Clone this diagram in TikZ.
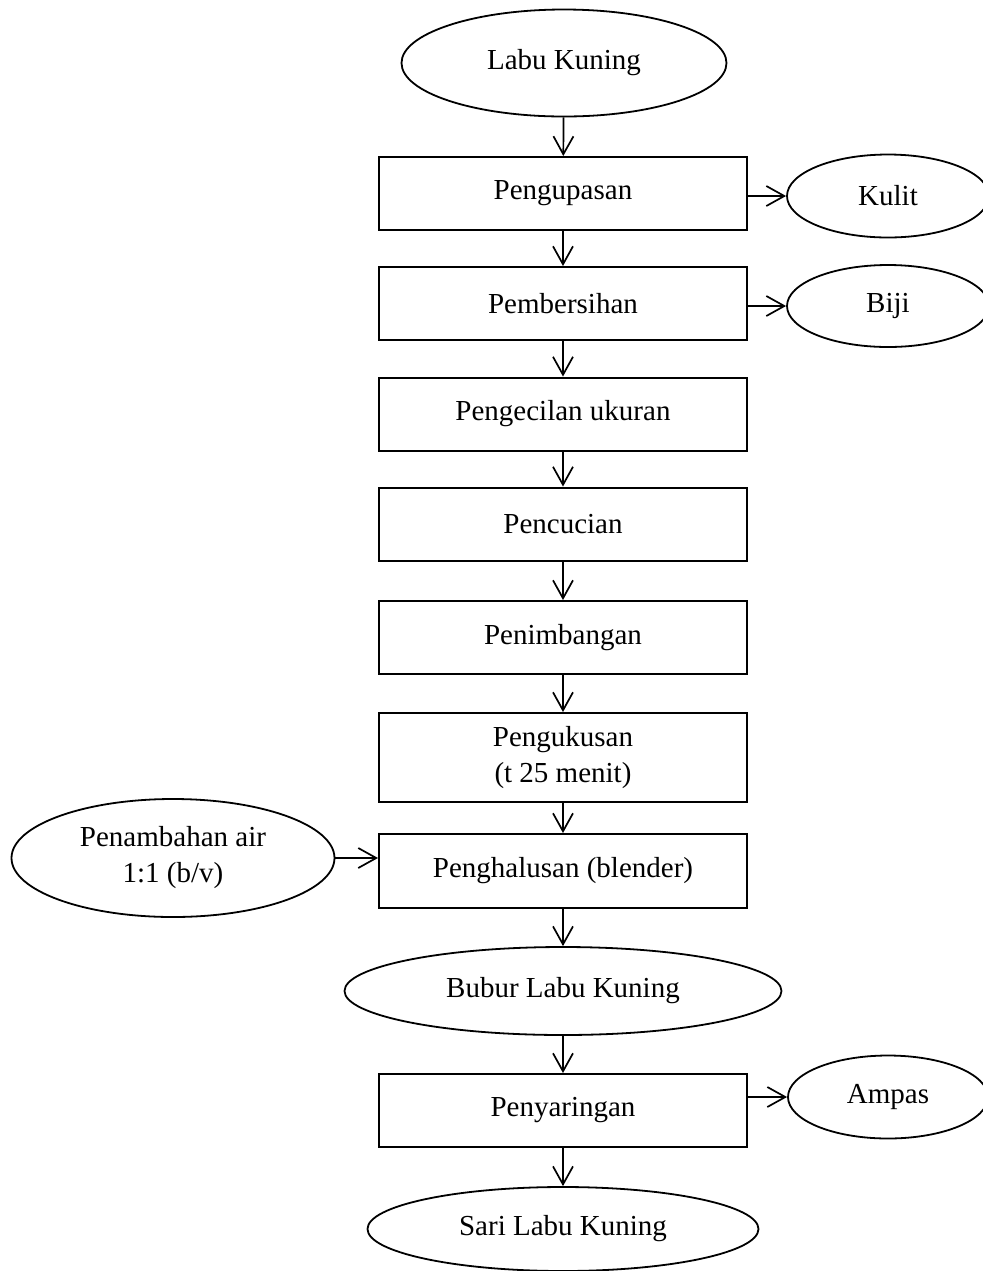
\documentclass[tikz,border=0pt]{standalone}
\usepackage{fontspec}
\setmainfont{Liberation Serif}
\usetikzlibrary{shapes.geometric, arrows.meta}

\begin{document}
\begin{tikzpicture}[x=0.5pt, y=-0.5pt,
	txt/.style={font=\fontsize{14.5}{18}\selectfont, align=center, inner sep=0pt},
	proc/.style={txt, draw, line width=1pt, minimum width=184pt, minimum height=36.5pt},
	bahan/.style={txt, draw, ellipse, line width=0.9pt},
	arr/.style={-{Straight Barb[length=9pt, width=10pt]}, line width=0.85pt}]
					\useasboundingbox (0,0) rectangle (983,1271);
					
					\node[bahan, minimum width=162.5pt, minimum height=53.5pt] (n0) at (564,63) {Labu Kuning};
					\node[proc] (n1) at (563,193.5) {Pengupasan};
					\node[proc] (n2) at (563,303.5) {Pembersihan};
					\node[proc] (n3) at (563,414) {Pengecilan ukuran};
					\node[proc] (n4) at (563,524) {Pencucian};
					\node[proc] (n5) at (563,637.5) {Penimbangan};
					\node[proc, minimum height=44.5pt] (n6) at (563,757.5) {Pengukusan\\(t 25 menit)};
					\node[proc, minimum height=37pt] (n7) at (563,871) {Penghalusan (blender)};
					\node[bahan, minimum width=218.5pt, minimum height=44pt] (n8) at (563,991) {Bubur Labu Kuning};
					\node[proc] (n9) at (563,1110.5) {Penyaringan};
					\node[bahan, minimum width=195.5pt, minimum height=42pt] (n10) at (563,1229) {Sari Labu Kuning};
					
					\node[bahan, minimum width=101pt, minimum height=41.5pt] (s1) at (888,196) {Kulit};
					\node[bahan, minimum width=101pt, minimum height=41pt] (s2) at (888,306) {Biji};
					\node[bahan, minimum width=161.5pt, minimum height=59pt] (s3) at (173,858) {Penambahan air\\1:1 (b/v)};
					\node[bahan, minimum width=100pt, minimum height=41.5pt] (s4) at (888,1097) {Ampas};
					
					\draw[arr] (n0) -- (n1);
					\draw[arr] (n1) -- (n2);
					\draw[arr] (n2) -- (n3);
					\draw[arr] (n3) -- (n4);
					\draw[arr] (n4) -- (n5);
					\draw[arr] (n5) -- (n6);
					\draw[arr] (n6) -- (n7);
					\draw[arr] (n7) -- (n8);
					\draw[arr] (n8) -- (n9);
					\draw[arr] (n9) -- (n10);
					\draw[arr] (n1.east |- s1.west) -- (s1.west);
					\draw[arr] (n2.east |- s2.west) -- (s2.west);
					\draw[arr] (s3.east) -- (s3.east -| n7.west);
					\draw[arr] (n9.east |- s4.west) -- (s4.west);
					\end{tikzpicture}
\end{document}
